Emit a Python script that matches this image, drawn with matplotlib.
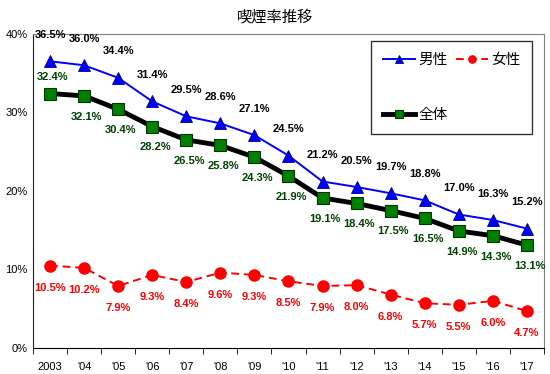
import numpy as np
import matplotlib.pyplot as plt
from matplotlib.ticker import FixedLocator

plt.rcParams['font.family'] = ['Liberation Sans', 'Noto Sans CJK JP', 'DejaVu Sans']

years = ['2003', "'04", "'05", "'06", "'07", "'08", "'09", "'10",
         "'11", "'12", "'13", "'14", "'15", "'16", "'17"]
male = [36.5, 36.0, 34.4, 31.4, 29.5, 28.6, 27.1, 24.5, 21.2, 20.5, 19.7, 18.8, 17.0, 16.3, 15.2]
female = [10.5, 10.2, 7.9, 9.3, 8.4, 9.6, 9.3, 8.5, 7.9, 8.0, 6.8, 5.7, 5.5, 6.0, 4.7]
total = [32.4, 32.1, 30.4, 28.2, 26.5, 25.8, 24.3, 21.9, 19.1, 18.4, 17.5, 16.5, 14.9, 14.3, 13.1]

x = np.arange(len(years))

fig = plt.figure(figsize=(5.5, 3.74), dpi=100)
ax = fig.add_axes([0.06, 0.0695, 0.929, 0.84])

l_m, = ax.plot(x, male, color='#0000ff', lw=1.4, marker='^', ms=8,
               mfc='#0000ff', mec='#000080', mew=0.6, label='男性', zorder=3)
l_f, = ax.plot(x, female, color='#ff0000', lw=1.4, ls=(0, (4, 2.5)), marker='o', ms=8,
               mfc='#ff0000', mec='#ff0000', label='女性', zorder=3)
l_t, = ax.plot(x, total, color='black', lw=3.5, marker='s', ms=8,
               mfc='#008000', mec='#003300', mew=0.8, label='全体', zorder=3)

lbl = dict(fontsize=8, fontweight='bold', ha='center', va='center')
for i in range(len(x)):
    ax.annotate(f'{male[i]:.1f}%', (x[i], male[i]), xytext=(0, 19),
                textcoords='offset points', color='black', **lbl)
    off = 12 if i == 0 else -15
    ax.annotate(f'{total[i]:.1f}%', (x[i], total[i]), xytext=(2, off),
                textcoords='offset points', color='#004000', **lbl)
    ax.annotate(f'{female[i]:.1f}%', (x[i], female[i]), xytext=(0, -16),
                textcoords='offset points', color='#ff0000', **lbl)

ax.set_xlim(-0.5, len(x) - 0.5)
ax.set_ylim(0, 40)
ax.set_yticks([0, 10, 20, 30, 40])
ax.set_yticklabels(['0%', '10%', '20%', '30%', '40%'], fontsize=8)
ax.tick_params(axis='y', length=0, pad=4)
ax.set_xticks(x)
ax.set_xticklabels(years, fontsize=8)
ax.tick_params(axis='x', length=0, pad=10)
ax.xaxis.set_minor_locator(FixedLocator(np.arange(-0.5, len(x), 1)))
ax.tick_params(axis='x', which='minor', length=4, direction='out', color='black')

for s in ['top', 'right']:
    ax.spines[s].set_color('#808080')
ax.spines['left'].set_color('#202020')
ax.spines['bottom'].set_color('black')

leg = ax.legend(handles=[l_m, l_t, l_f], loc='upper right',
                bbox_to_anchor=(0.985, 0.99), ncol=2, markerscale=0.65,
                fontsize=10.5, frameon=True, fancybox=False, edgecolor='black',
                handlelength=2.2, handletextpad=0.2, columnspacing=0.6,
                labelspacing=2.8, borderpad=0.8, borderaxespad=0.3)
leg.get_frame().set_linewidth(1.0)

fig.text(0.5, 0.955, '喫煙率推移', ha='center', va='center', fontsize=11)

fig.savefig('out.png', dpi=100)
